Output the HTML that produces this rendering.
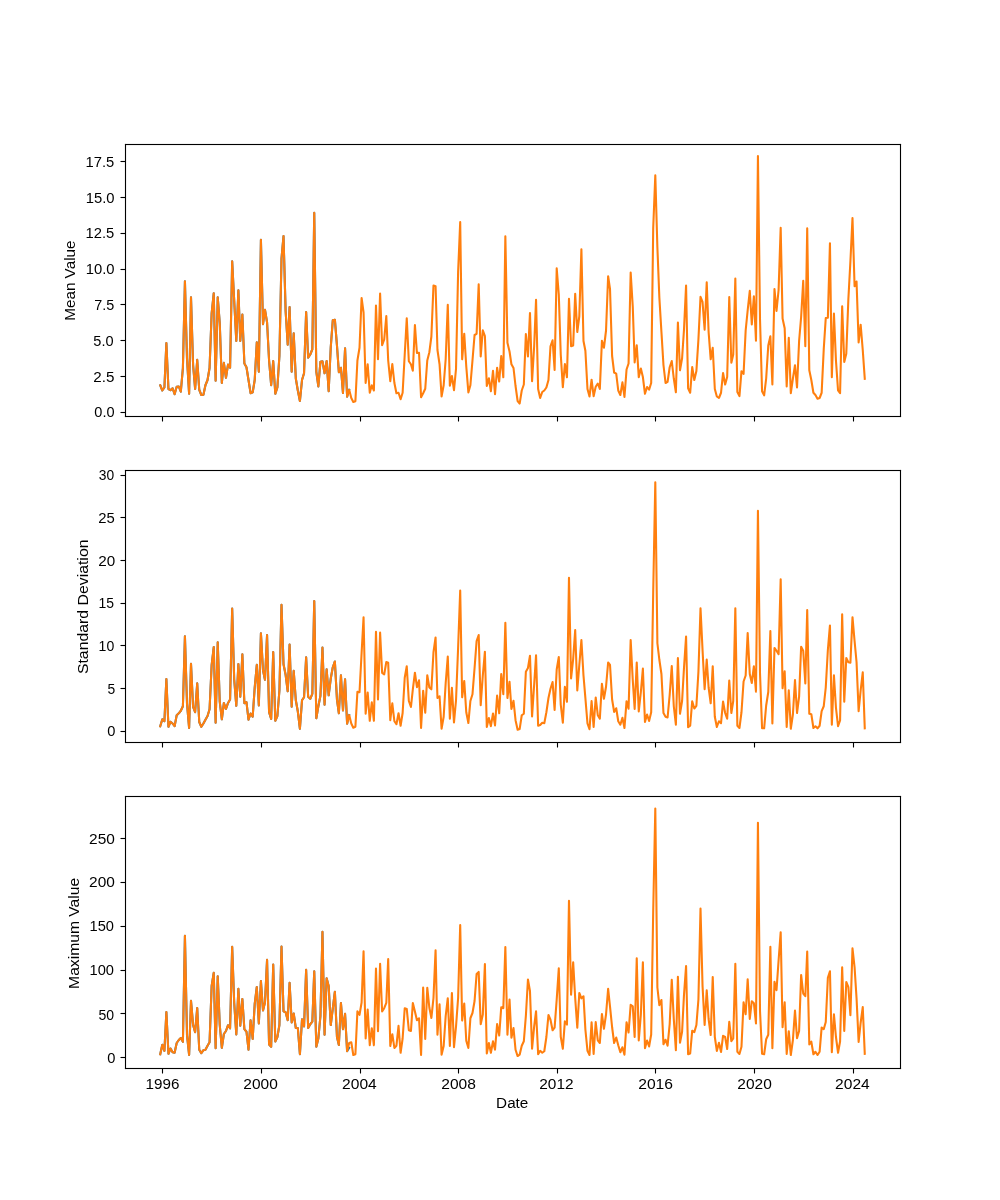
<!DOCTYPE html>
<html><head><meta charset="utf-8"><title>plot</title>
<style>html,body{margin:0;padding:0;background:#fff}svg text{font-family:"Liberation Sans",sans-serif}</style></head>
<body>
<svg width="1000" height="1200" viewBox="0 0 1000 1200" style="display:block;will-change:transform">
<rect width="1000" height="1200" fill="#fff"/>
<g fill="none" stroke-width="2.08" stroke-linejoin="round" stroke-linecap="square">
<polyline stroke="#1f77b4" points="160.23,385.25 162.32,390.50 164.41,387.50 166.37,343.00 168.46,389.00 170.49,390.20 172.58,388.25 174.60,394.25 176.70,386.75 178.79,386.45 180.81,391.70 182.90,368.00 184.93,281.20 187.02,359.00 189.11,393.80 191.00,297.25 193.10,365.00 195.12,389.00 197.21,359.80 199.24,389.75 201.33,395.00 203.42,394.70 205.44,385.25 207.54,380.00 209.56,368.00 211.65,313.25 213.75,293.20 215.63,380.75 217.73,297.25 219.75,323.00 221.84,383.00 223.87,362.80 225.96,377.75 228.05,364.45 230.08,367.70 232.17,261.25 234.19,300.50 236.29,341.00 238.38,290.20 240.27,341.00 242.36,314.50 244.38,363.50 246.48,367.25 248.50,380.00 250.59,393.20 252.68,392.30 254.71,380.00 256.80,342.25 258.83,371.75 260.92,239.80 263.01,324.20 264.97,309.70 267.06,322.25 269.08,360.50 271.17,385.25 273.20,361.00 275.29,393.80 277.38,387.50 279.41,356.00 281.50,258.50 283.52,236.05 285.62,311.00 287.71,344.75 289.60,307.00 291.69,371.75 293.71,333.25 295.81,378.50 297.83,390.50 299.92,401.00 302.02,380.00 304.04,373.25 306.13,311.95 308.16,357.80 310.25,354.50 312.34,349.25 314.23,212.80 316.32,371.75 318.35,386.45 320.44,361.70 322.46,361.25 324.56,373.25 326.65,361.00 328.67,391.25 330.76,347.00 332.79,320.30 334.88,319.70 336.97,345.50 338.86,372.20 340.95,367.75 342.98,393.05 345.07,348.25 347.10,396.80 349.19,389.80"/>
<polyline stroke="#ff7f0e" points="160.23,385.25 162.32,390.50 164.41,387.50 166.37,343.00 168.46,389.00 170.49,390.20 172.58,388.25 174.60,394.25 176.70,386.75 178.79,386.45 180.81,391.70 182.90,368.00 184.93,281.20 187.02,359.00 189.11,393.80 191.00,297.25 193.10,365.00 195.12,389.00 197.21,359.80 199.24,389.75 201.33,395.00 203.42,394.70 205.44,385.25 207.54,380.00 209.56,368.00 211.65,313.25 213.75,293.20 215.63,380.75 217.73,297.25 219.75,323.00 221.84,383.00 223.87,362.80 225.96,377.75 228.05,364.45 230.08,367.70 232.17,261.25 234.19,300.50 236.29,341.00 238.38,290.20 240.27,341.00 242.36,314.50 244.38,363.50 246.48,367.25 248.50,380.00 250.59,393.20 252.68,392.30 254.71,380.00 256.80,342.25 258.83,371.75 260.92,239.80 263.01,324.20 264.97,309.70 267.06,322.25 269.08,360.50 271.17,385.25 273.20,361.00 275.29,393.80 277.38,387.50 279.41,356.00 281.50,258.50 283.52,236.05 285.62,311.00 287.71,344.75 289.60,307.00 291.69,371.75 293.71,333.25 295.81,378.50 297.83,390.50 299.92,401.00 302.02,380.00 304.04,373.25 306.13,311.95 308.16,357.80 310.25,354.50 312.34,349.25 314.23,212.80 316.32,371.75 318.35,386.45 320.44,361.70 322.46,361.25 324.56,373.25 326.65,361.00 328.67,391.25 330.76,347.00 332.79,320.30 334.88,319.70 336.97,345.50 338.86,372.20 340.95,367.75 342.98,393.05 345.07,348.25 347.10,396.80 349.19,389.80 351.28,398.00 353.30,402.05 355.40,401.30 357.42,360.50 359.51,347.75 361.60,298.00 363.56,312.50 365.65,383.00 367.68,364.30 369.77,392.75 371.79,385.30 373.89,390.50 375.98,305.50 378.00,359.30 380.10,293.50 382.12,345.20 384.21,339.50 386.30,316.00 388.19,360.50 390.29,381.20 392.31,364.00 394.40,383.00 396.43,393.20 398.52,392.75 400.61,399.20 402.63,392.75 404.73,354.50 406.75,318.25 408.84,361.25 410.94,364.25 412.83,370.70 414.92,325.00 416.94,353.00 419.03,352.70 421.06,397.25 423.15,393.20 425.24,388.70 427.27,360.50 429.36,352.25 431.38,336.50 433.48,285.50 435.57,286.25 437.46,350.00 439.55,364.25 441.57,396.50 443.67,385.25 445.69,359.00 447.78,304.75 449.87,385.70 451.90,376.00 453.99,390.20 456.02,368.75 458.11,272.00 460.20,222.10 462.16,359.30 464.25,333.70 466.27,366.50 468.37,392.45 470.39,385.25 472.48,360.50 474.57,335.00 476.60,333.80 478.69,284.20 480.71,356.45 482.81,330.25 484.90,336.20 486.79,386.00 488.88,378.25 490.90,391.25 493.00,370.75 495.02,394.25 497.11,367.75 499.21,381.50 501.23,356.05 503.32,377.30 505.35,236.20 507.44,342.80 509.53,351.50 511.42,364.25 513.51,368.00 515.54,386.00 517.63,401.00 519.65,403.55 521.75,390.50 523.84,384.50 525.86,334.00 527.95,356.45 529.98,313.00 532.07,381.20 534.16,346.25 536.05,299.80 538.14,389.00 540.17,398.00 542.26,392.00 544.29,390.50 546.38,387.50 548.47,380.00 550.49,346.25 552.59,340.30 554.61,369.95 556.70,268.30 558.79,294.50 560.75,354.50 562.84,387.20 564.87,364.00 566.96,377.30 568.98,298.75 571.08,346.25 573.17,345.50 575.19,293.80 577.29,332.00 579.31,316.25 581.40,249.25 583.49,341.00 585.38,350.75 587.48,389.00 589.50,396.50 591.59,379.75 593.62,396.20 595.71,386.75 597.80,383.50 599.83,389.00 601.92,340.75 603.94,347.75 606.03,330.50 608.13,276.25 610.02,289.25 612.11,356.00 614.13,372.50 616.22,373.70 618.25,390.50 620.34,395.00 622.43,382.30 624.46,396.95 626.55,369.50 628.57,363.50 630.67,272.50 632.76,306.50 634.65,362.45 636.74,345.25 638.76,377.30 640.86,368.50 642.88,377.00 644.97,393.80 647.06,386.95 649.09,389.75 651.18,383.00 653.21,228.05 655.30,175.30 657.39,247.55 659.35,297.50 661.44,332.00 663.46,365.00 665.56,383.00 667.58,381.80 669.67,367.25 671.76,361.00 673.79,378.50 675.88,392.30 677.90,322.45 680.00,370.25 682.09,358.25 683.98,329.75 686.07,285.55 688.10,388.25 690.19,392.75 692.21,367.00 694.30,380.00 696.40,371.00 698.42,339.50 700.51,296.80 702.54,302.00 704.63,329.75 706.72,282.25 708.61,332.00 710.70,359.30 712.73,347.80 714.82,389.00 716.84,396.50 718.94,398.00 721.03,392.75 723.05,373.00 725.14,384.50 727.17,377.00 729.26,296.95 731.35,362.75 733.24,354.50 735.33,278.50 737.36,392.00 739.45,396.05 741.48,371.20 743.57,374.00 745.66,330.50 747.68,310.25 749.78,290.80 751.80,324.50 753.89,296.20 755.98,340.70 757.94,155.95 760.03,320.00 762.06,391.25 764.15,395.30 766.17,378.50 768.27,345.50 770.36,336.25 772.38,384.50 774.48,289.00 776.50,311.00 778.59,290.00 780.68,227.80 782.57,318.50 784.67,328.25 786.69,386.45 788.78,337.75 790.81,393.20 792.90,378.50 794.99,365.20 797.02,387.50 799.11,341.00 801.13,317.00 803.22,280.75 805.32,346.25 807.21,228.25 809.30,370.25 811.32,380.00 813.41,392.75 815.44,395.00 817.53,398.75 819.62,398.00 821.65,392.75 823.74,349.25 825.76,318.05 827.86,317.75 829.95,243.25 831.84,377.30 833.93,313.45 835.95,360.50 838.05,390.50 840.07,393.20 842.16,306.25 844.25,362.00 846.28,353.75 848.37,299.00 850.40,261.50 852.49,218.05 854.58,286.25 856.54,281.50 858.63,342.50 860.65,324.70 862.75,350.00 864.77,378.80"/>
</g>
<g stroke="#000" stroke-width="1.11" fill="none">
<path d="M162.5 416.5v5"/>
<path d="M261.5 416.5v5"/>
<path d="M360.5 416.5v5"/>
<path d="M458.5 416.5v5"/>
<path d="M557.5 416.5v5"/>
<path d="M655.5 416.5v5"/>
<path d="M754.5 416.5v5"/>
<path d="M853.5 416.5v5"/>
<path d="M125.5 412.5h-5"/>
<path d="M125.5 376.5h-5"/>
<path d="M125.5 340.5h-5"/>
<path d="M125.5 304.5h-5"/>
<path d="M125.5 269.5h-5"/>
<path d="M125.5 233.5h-5"/>
<path d="M125.5 197.5h-5"/>
<path d="M125.5 161.5h-5"/>
<rect stroke="none" fill="#000" x="124.945" y="143.945" width="776.110" height="1.110"/>
<rect stroke="none" fill="#000" x="124.945" y="415.945" width="776.110" height="1.110"/>
<rect stroke="none" fill="#000" x="124.945" y="143.945" width="1.110" height="273.110"/>
<rect stroke="none" fill="#000" x="899.945" y="143.945" width="1.110" height="273.110"/>
</g>
<text id="y0_0" x="114.53" y="417.02" font-size="14" text-anchor="end" textLength="20.23" lengthAdjust="spacingAndGlyphs" fill="#000">0.0</text>
<text id="y0_1" x="114.47" y="382.00" font-size="14" text-anchor="end" textLength="21.13" lengthAdjust="spacingAndGlyphs" fill="#000">2.5</text>
<text id="y0_2" x="113.58" y="345.68" font-size="14" text-anchor="end" textLength="20.23" lengthAdjust="spacingAndGlyphs" fill="#000">5.0</text>
<text id="y0_3" x="114.36" y="310.15" font-size="14" text-anchor="end" textLength="20.02" lengthAdjust="spacingAndGlyphs" fill="#000">7.5</text>
<text id="y0_4" x="114.48" y="274.00" font-size="14" text-anchor="end" textLength="28.82" lengthAdjust="spacingAndGlyphs" fill="#000">10.0</text>
<text id="y0_5" x="114.22" y="238.00" font-size="14" text-anchor="end" textLength="28.71" lengthAdjust="spacingAndGlyphs" fill="#000">12.5</text>
<text id="y0_6" x="114.48" y="203.00" font-size="14" text-anchor="end" textLength="28.82" lengthAdjust="spacingAndGlyphs" fill="#000">15.0</text>
<text id="y0_7" x="114.22" y="167.00" font-size="14" text-anchor="end" textLength="28.71" lengthAdjust="spacingAndGlyphs" fill="#000">17.5</text>
<g fill="none" stroke-width="2.08" stroke-linejoin="round" stroke-linecap="square">
<polyline stroke="#1f77b4" points="160.23,726.20 162.32,719.30 164.41,721.25 166.37,679.00 168.46,726.80 170.49,721.75 172.58,723.50 174.60,726.20 176.70,715.25 178.79,713.30 180.81,710.75 182.90,706.25 184.93,636.25 187.02,704.00 189.11,728.00 191.00,663.70 193.10,707.00 195.12,712.25 197.21,683.20 199.24,722.00 201.33,726.80 203.42,723.50 205.44,719.75 207.54,716.00 209.56,709.25 211.65,665.00 213.75,647.05 215.63,722.75 217.73,642.25 219.75,701.75 221.84,719.30 223.87,703.00 225.96,708.80 228.05,702.95 230.08,699.50 232.17,608.50 234.19,679.25 236.29,705.80 238.38,664.00 240.27,696.80 242.36,654.25 244.38,703.25 246.48,702.20 248.50,719.75 250.59,713.50 252.68,716.75 254.71,687.50 256.80,664.75 258.83,705.50 260.92,633.25 263.01,670.25 264.97,679.70 267.06,635.05 269.08,712.25 271.17,719.00 273.20,652.00 275.29,720.80 277.38,716.00 279.41,690.50 281.50,604.75 283.52,664.25 285.62,674.75 287.71,691.25 289.60,644.50 291.69,706.70 293.71,670.75 295.81,700.25 297.83,711.50 299.92,728.75 302.02,700.25 304.04,697.25 306.13,657.25 308.16,696.80 310.25,698.75 312.34,693.80 314.23,601.00 316.32,718.25 318.35,706.25 320.44,695.75 322.46,647.50 324.56,704.75 326.65,669.25 328.67,695.30 330.76,678.50 332.79,667.25 334.88,661.45 336.97,699.50 338.86,713.30 340.95,675.25 342.98,710.45 345.07,679.30 347.10,723.80 349.19,715.00"/>
<polyline stroke="#ff7f0e" points="160.23,726.20 162.32,719.30 164.41,721.25 166.37,679.00 168.46,726.80 170.49,721.75 172.58,723.50 174.60,726.20 176.70,715.25 178.79,713.30 180.81,710.75 182.90,706.25 184.93,636.25 187.02,704.00 189.11,728.00 191.00,663.70 193.10,707.00 195.12,712.25 197.21,683.20 199.24,722.00 201.33,726.80 203.42,723.50 205.44,719.75 207.54,716.00 209.56,709.25 211.65,665.00 213.75,647.05 215.63,722.75 217.73,642.25 219.75,701.75 221.84,719.30 223.87,703.00 225.96,708.80 228.05,702.95 230.08,699.50 232.17,608.50 234.19,679.25 236.29,705.80 238.38,664.00 240.27,696.80 242.36,654.25 244.38,703.25 246.48,702.20 248.50,719.75 250.59,713.50 252.68,716.75 254.71,687.50 256.80,664.75 258.83,705.50 260.92,633.25 263.01,670.25 264.97,679.70 267.06,635.05 269.08,712.25 271.17,719.00 273.20,652.00 275.29,720.80 277.38,716.00 279.41,690.50 281.50,604.75 283.52,664.25 285.62,674.75 287.71,691.25 289.60,644.50 291.69,706.70 293.71,670.75 295.81,700.25 297.83,711.50 299.92,728.75 302.02,700.25 304.04,697.25 306.13,657.25 308.16,696.80 310.25,698.75 312.34,693.80 314.23,601.00 316.32,718.25 318.35,706.25 320.44,695.75 322.46,647.50 324.56,704.75 326.65,669.25 328.67,695.30 330.76,678.50 332.79,667.25 334.88,661.45 336.97,699.50 338.86,713.30 340.95,675.25 342.98,710.45 345.07,679.30 347.10,723.80 349.19,715.00 351.28,723.50 353.30,727.70 355.40,726.80 357.42,691.70 359.51,692.30 361.60,653.00 363.56,617.20 365.65,713.75 367.68,692.50 369.77,720.80 371.79,702.25 373.89,720.80 375.98,631.75 378.00,699.50 380.10,632.50 382.12,672.80 384.21,674.30 386.30,662.00 388.19,662.75 390.29,720.20 392.31,703.30 394.40,721.25 396.43,724.25 398.52,713.20 400.61,725.75 402.63,713.00 404.73,677.75 406.75,666.25 408.84,701.00 410.94,707.00 412.83,689.30 414.92,672.70 416.94,687.20 419.03,680.20 421.06,728.00 423.15,690.70 425.24,712.70 427.27,675.25 429.36,687.50 431.38,689.30 433.48,652.25 435.57,637.45 437.46,698.00 439.55,696.25 441.57,728.75 443.67,716.75 445.69,683.00 447.78,656.50 449.87,718.70 451.90,687.70 453.99,722.45 456.02,700.25 458.11,647.75 460.20,590.50 462.16,697.25 464.25,680.95 466.27,712.25 468.37,723.05 470.39,701.00 472.48,694.25 474.57,668.00 476.60,641.00 478.69,635.05 480.71,705.20 482.81,675.50 484.90,651.70 486.79,726.95 488.88,718.00 490.90,726.20 493.00,713.50 495.02,725.45 497.11,695.50 499.21,713.30 501.23,674.05 503.32,694.25 505.35,622.75 507.44,698.00 509.53,681.70 511.42,708.95 513.51,700.75 515.54,720.20 517.63,729.80 519.65,729.05 521.75,715.25 523.84,713.75 525.86,671.75 527.95,668.00 529.98,655.75 532.07,716.45 534.16,684.50 536.05,655.30 538.14,725.75 540.17,725.00 542.26,722.75 544.29,723.20 546.38,712.25 548.47,698.00 550.49,688.70 552.59,682.00 554.61,710.00 556.70,669.50 558.79,656.95 560.75,704.75 562.84,722.75 564.87,686.80 566.96,701.75 568.98,577.75 571.08,678.50 573.17,659.00 575.19,629.95 577.29,690.50 579.31,665.00 581.40,640.00 583.49,675.50 585.38,698.00 587.48,723.50 589.50,729.20 591.59,701.05 593.62,726.95 595.71,697.45 597.80,715.25 599.83,718.70 601.92,683.80 603.94,698.75 606.03,686.75 608.13,662.50 610.02,665.00 612.11,699.50 614.13,711.95 616.22,708.25 618.25,721.25 620.34,724.70 622.43,717.70 624.46,728.00 626.55,701.20 628.57,708.80 630.67,640.00 632.76,680.00 634.65,708.95 636.74,662.50 638.76,711.50 640.86,692.00 642.88,668.50 644.97,722.00 647.06,714.55 649.09,720.95 651.18,712.25 653.21,591.95 655.30,482.20 657.39,643.25 659.35,659.75 661.44,674.00 663.46,713.00 665.56,716.75 667.58,717.50 669.67,695.00 671.76,665.95 673.79,706.25 675.88,724.70 677.90,658.00 680.00,713.75 682.09,701.00 683.98,668.00 686.07,636.55 688.10,727.25 690.19,725.75 692.21,701.20 694.30,708.50 696.40,705.80 698.42,671.75 700.51,608.20 702.54,650.00 704.63,689.30 706.72,659.50 708.61,687.50 710.70,703.25 712.73,666.25 714.82,716.75 716.84,726.95 718.94,721.25 721.03,723.20 723.05,701.50 725.14,713.00 727.17,718.70 729.26,680.50 731.35,713.00 733.24,701.00 735.33,608.20 737.36,725.75 739.45,728.00 741.48,712.25 743.57,681.50 745.66,675.50 747.68,632.95 749.78,674.00 751.80,683.00 753.89,666.25 755.98,691.70 757.94,510.70 760.03,674.00 762.06,728.30 764.15,728.30 766.17,705.50 768.27,692.00 770.36,631.00 772.38,723.50 774.48,647.95 776.50,650.75 778.59,654.20 780.68,579.25 782.57,688.25 784.67,671.20 786.69,726.95 788.78,690.25 790.81,728.75 792.90,714.50 794.99,680.05 797.02,713.00 799.11,696.50 801.13,646.75 803.22,650.75 805.32,683.45 807.21,610.00 809.30,713.75 811.32,714.20 813.41,728.00 815.44,726.25 817.53,728.30 819.62,725.75 821.65,711.20 823.74,706.25 825.76,687.50 827.86,650.00 829.95,625.45 831.84,724.70 833.93,675.25 835.95,707.75 838.05,726.20 840.07,720.50 842.16,614.20 844.25,701.75 846.28,658.00 848.37,662.30 850.40,662.75 852.49,617.20 854.58,641.00 856.54,662.00 858.63,711.20 860.65,690.50 862.75,672.25 864.77,728.30"/>
</g>
<g stroke="#000" stroke-width="1.11" fill="none">
<path d="M162.5 742.5v5"/>
<path d="M261.5 742.5v5"/>
<path d="M360.5 742.5v5"/>
<path d="M458.5 742.5v5"/>
<path d="M557.5 742.5v5"/>
<path d="M655.5 742.5v5"/>
<path d="M754.5 742.5v5"/>
<path d="M853.5 742.5v5"/>
<path d="M125.5 731.5h-5"/>
<path d="M125.5 688.5h-5"/>
<path d="M125.5 645.5h-5"/>
<path d="M125.5 603.5h-5"/>
<path d="M125.5 560.5h-5"/>
<path d="M125.5 517.5h-5"/>
<path d="M125.5 475.5h-5"/>
<rect stroke="none" fill="#000" x="124.945" y="469.945" width="776.110" height="1.110"/>
<rect stroke="none" fill="#000" x="124.945" y="741.945" width="776.110" height="1.110"/>
<rect stroke="none" fill="#000" x="124.945" y="469.945" width="1.110" height="273.110"/>
<rect stroke="none" fill="#000" x="899.945" y="469.945" width="1.110" height="273.110"/>
</g>
<text id="y1_0" x="115.43" y="736.48" font-size="14" text-anchor="end" textLength="8.17" lengthAdjust="spacingAndGlyphs" fill="#000">0</text>
<text id="y1_1" x="115.21" y="693.74" font-size="14" text-anchor="end" textLength="7.72" lengthAdjust="spacingAndGlyphs" fill="#000">5</text>
<text id="y1_2" x="114.22" y="651.00" font-size="14" text-anchor="end" textLength="15.62" lengthAdjust="spacingAndGlyphs" fill="#000">10</text>
<text id="y1_3" x="114.06" y="608.00" font-size="14" text-anchor="end" textLength="15.51" lengthAdjust="spacingAndGlyphs" fill="#000">15</text>
<text id="y1_4" x="115.32" y="566.00" font-size="14" text-anchor="end" textLength="16.96" lengthAdjust="spacingAndGlyphs" fill="#000">20</text>
<text id="y1_5" x="114.88" y="523.00" font-size="14" text-anchor="end" textLength="16.53" lengthAdjust="spacingAndGlyphs" fill="#000">25</text>
<text id="y1_6" x="114.07" y="480.48" font-size="14" text-anchor="end" textLength="15.36" lengthAdjust="spacingAndGlyphs" fill="#000">30</text>
<g fill="none" stroke-width="2.08" stroke-linejoin="round" stroke-linecap="square">
<polyline stroke="#1f77b4" points="160.23,1054.25 162.32,1044.70 164.41,1050.95 166.37,1012.00 168.46,1053.80 170.49,1048.45 172.58,1052.30 174.60,1052.75 176.70,1043.00 178.79,1040.00 180.81,1038.05 182.90,1041.80 184.93,935.80 187.02,1035.50 189.11,1055.00 191.00,1000.75 193.10,1025.00 195.12,1032.20 197.21,1007.95 199.24,1049.75 201.33,1053.20 203.42,1050.20 205.44,1049.75 207.54,1045.70 209.56,1042.25 211.65,986.00 213.75,972.70 215.63,1048.25 217.73,976.30 219.75,1025.00 221.84,1047.80 223.87,1034.00 225.96,1031.00 228.05,1025.20 230.08,1028.30 232.17,946.75 234.19,1002.50 236.29,1034.45 238.38,988.75 240.27,1025.75 242.36,998.95 244.38,1029.20 246.48,1031.75 248.50,1049.75 250.59,1020.25 252.68,1038.95 254.71,1004.00 256.80,986.95 258.83,1023.50 260.92,980.95 263.01,1010.45 264.97,1002.50 267.06,959.80 269.08,1044.50 271.17,1046.75 273.20,964.45 275.29,1041.50 277.38,1037.00 279.41,1025.00 281.50,946.45 283.52,1011.20 285.62,1012.25 287.71,1020.20 289.60,982.75 291.69,1022.45 293.71,1013.50 295.81,1028.00 297.83,1028.00 299.92,1054.25 302.02,1019.20 304.04,1026.50 306.13,969.70 308.16,1028.00 310.25,1024.25 312.34,1021.70 314.23,971.20 316.32,1046.75 318.35,1038.50 320.44,1016.00 322.46,931.75 324.56,1034.75 326.65,978.25 328.67,986.00 330.76,1025.00 332.79,1008.50 334.88,991.75 336.97,1037.00 338.86,1044.95 340.95,1003.00 342.98,1029.20 345.07,1013.80 347.10,1051.25 349.19,1047.80"/>
<polyline stroke="#ff7f0e" points="160.23,1054.25 162.32,1044.70 164.41,1050.95 166.37,1012.00 168.46,1053.80 170.49,1048.45 172.58,1052.30 174.60,1052.75 176.70,1043.00 178.79,1040.00 180.81,1038.05 182.90,1041.80 184.93,935.80 187.02,1035.50 189.11,1055.00 191.00,1000.75 193.10,1025.00 195.12,1032.20 197.21,1007.95 199.24,1049.75 201.33,1053.20 203.42,1050.20 205.44,1049.75 207.54,1045.70 209.56,1042.25 211.65,986.00 213.75,972.70 215.63,1048.25 217.73,976.30 219.75,1025.00 221.84,1047.80 223.87,1034.00 225.96,1031.00 228.05,1025.20 230.08,1028.30 232.17,946.75 234.19,1002.50 236.29,1034.45 238.38,988.75 240.27,1025.75 242.36,998.95 244.38,1029.20 246.48,1031.75 248.50,1049.75 250.59,1020.25 252.68,1038.95 254.71,1004.00 256.80,986.95 258.83,1023.50 260.92,980.95 263.01,1010.45 264.97,1002.50 267.06,959.80 269.08,1044.50 271.17,1046.75 273.20,964.45 275.29,1041.50 277.38,1037.00 279.41,1025.00 281.50,946.45 283.52,1011.20 285.62,1012.25 287.71,1020.20 289.60,982.75 291.69,1022.45 293.71,1013.50 295.81,1028.00 297.83,1028.00 299.92,1054.25 302.02,1019.20 304.04,1026.50 306.13,969.70 308.16,1028.00 310.25,1024.25 312.34,1021.70 314.23,971.20 316.32,1046.75 318.35,1038.50 320.44,1016.00 322.46,931.75 324.56,1034.75 326.65,978.25 328.67,986.00 330.76,1025.00 332.79,1008.50 334.88,991.75 336.97,1037.00 338.86,1044.95 340.95,1003.00 342.98,1029.20 345.07,1013.80 347.10,1051.25 349.19,1043.00 351.28,1042.25 353.30,1055.00 355.40,1054.25 357.42,1011.25 359.51,1014.80 361.60,1002.50 363.56,951.25 365.65,1038.50 367.68,1009.45 369.77,1045.25 371.79,1028.20 373.89,1045.25 375.98,968.50 378.00,1031.30 380.10,963.70 382.12,1011.50 384.21,1008.20 386.30,1002.95 388.19,959.05 390.29,1046.00 392.31,1034.20 394.40,1047.95 396.43,1045.70 398.52,1025.80 400.61,1052.75 402.63,1038.50 404.73,1008.20 406.75,1008.95 408.84,1030.25 410.94,1031.00 412.83,1003.00 414.92,1011.50 416.94,1020.20 419.03,1018.30 421.06,1055.00 423.15,987.55 425.24,1038.95 427.27,987.70 429.36,1007.75 431.38,1017.95 433.48,998.00 435.57,950.20 437.46,1034.75 439.55,1004.20 441.57,1054.70 443.67,1046.00 445.69,1016.00 447.78,998.20 449.87,1046.00 451.90,992.95 453.99,1047.20 456.02,1026.50 458.11,998.00 460.20,925.00 462.16,1020.50 464.25,1003.45 466.27,1040.75 468.37,1047.95 470.39,1018.25 472.48,1013.00 474.57,1001.00 476.60,974.00 478.69,971.95 480.71,1024.25 482.81,1014.50 484.90,964.00 486.79,1053.50 488.88,1043.05 490.90,1052.75 493.00,1041.25 495.02,1049.75 497.11,1024.00 499.21,1035.50 501.23,1007.30 503.32,1008.20 505.35,947.05 507.44,1034.75 509.53,999.55 511.42,1037.75 513.51,1028.05 515.54,1049.75 517.63,1056.05 519.65,1054.70 521.75,1045.70 523.84,1041.20 525.86,1016.00 527.95,979.45 529.98,991.25 532.07,1048.70 534.16,1026.50 536.05,1011.25 538.14,1054.25 540.17,1050.80 542.26,1052.75 544.29,1051.25 546.38,1037.00 548.47,1015.00 550.49,1019.75 552.59,1030.25 554.61,1027.70 556.70,999.50 558.79,968.20 560.75,1036.70 562.84,1048.70 564.87,1021.30 566.96,1024.55 568.98,900.70 571.08,994.70 573.17,962.20 575.19,998.00 577.29,1027.70 579.31,992.95 581.40,998.30 583.49,996.25 585.38,1029.50 587.48,1050.80 589.50,1055.00 591.59,1022.20 593.62,1053.95 595.71,1022.05 597.80,1040.30 599.83,1043.00 601.92,1013.95 603.94,1028.75 606.03,1014.50 608.13,988.75 610.02,1006.70 612.11,1027.25 614.13,1043.00 616.22,1037.50 618.25,1045.25 620.34,1052.30 622.43,1047.25 624.46,1054.70 626.55,1022.20 628.57,1032.50 630.67,1004.75 632.76,1006.25 634.65,1037.00 636.74,958.30 638.76,1040.45 640.86,1014.50 642.88,962.20 644.97,1048.25 647.06,1040.50 649.09,1046.45 651.18,1034.45 653.21,911.00 655.30,808.45 657.39,987.50 659.35,1005.20 661.44,1000.00 663.46,1044.20 665.56,1039.75 667.58,1045.70 669.67,1024.25 671.76,979.75 673.79,1019.00 675.88,1050.20 677.90,976.75 680.00,1042.70 682.09,1031.75 683.98,995.00 686.07,965.95 688.10,1054.25 690.19,1053.50 692.21,1030.70 694.30,1032.20 696.40,1025.00 698.42,999.50 700.51,908.50 702.54,986.00 704.63,1025.00 706.72,990.25 708.61,1019.00 710.70,1035.05 712.73,977.05 714.82,1037.00 716.84,1050.95 718.94,1042.75 721.03,1052.00 723.05,1035.80 725.14,1037.00 727.17,1049.00 729.26,1021.75 731.35,1041.20 733.24,1038.50 735.33,963.70 737.36,1051.70 739.45,1053.95 741.48,1046.75 743.57,1002.25 745.66,1014.20 747.68,979.30 749.78,1019.00 751.80,1001.20 753.89,1003.25 755.98,1023.50 757.94,822.70 760.03,1011.50 762.06,1053.80 764.15,1054.25 766.17,1039.25 768.27,1034.75 770.36,946.75 772.38,1048.25 774.48,981.70 776.50,990.20 778.59,960.50 780.68,932.20 782.57,1027.25 784.67,1002.25 786.69,1053.95 788.78,1031.20 790.81,1055.00 792.90,1040.00 794.99,1010.50 797.02,1038.20 799.11,1031.00 801.13,974.95 803.22,993.50 805.32,996.20 807.21,951.55 809.30,1044.50 811.32,1041.70 813.41,1054.25 815.44,1051.75 817.53,1055.00 819.62,1051.70 821.65,1027.45 823.74,1029.20 825.76,1022.00 827.86,977.75 829.95,971.20 831.84,1052.30 833.93,1014.25 835.95,1037.00 838.05,1052.75 840.07,1041.50 842.16,967.30 844.25,1031.00 846.28,982.00 848.37,987.20 850.40,1015.25 852.49,948.25 854.58,967.25 856.54,998.00 858.63,1041.95 860.65,1022.75 862.75,1007.05 864.77,1053.80"/>
</g>
<g stroke="#000" stroke-width="1.11" fill="none">
<path d="M162.5 1068.5v5"/>
<path d="M261.5 1068.5v5"/>
<path d="M360.5 1068.5v5"/>
<path d="M458.5 1068.5v5"/>
<path d="M557.5 1068.5v5"/>
<path d="M655.5 1068.5v5"/>
<path d="M754.5 1068.5v5"/>
<path d="M853.5 1068.5v5"/>
<path d="M125.5 1057.5h-5"/>
<path d="M125.5 1013.5h-5"/>
<path d="M125.5 970.5h-5"/>
<path d="M125.5 926.5h-5"/>
<path d="M125.5 882.5h-5"/>
<path d="M125.5 838.5h-5"/>
<rect stroke="none" fill="#000" x="124.945" y="795.945" width="776.110" height="1.110"/>
<rect stroke="none" fill="#000" x="124.945" y="1067.945" width="776.110" height="1.110"/>
<rect stroke="none" fill="#000" x="124.945" y="795.945" width="1.110" height="273.110"/>
<rect stroke="none" fill="#000" x="899.945" y="795.945" width="1.110" height="273.110"/>
</g>
<text id="y2_0" x="115.43" y="1063.48" font-size="14" text-anchor="end" textLength="8.17" lengthAdjust="spacingAndGlyphs" fill="#000">0</text>
<text id="y2_1" x="114.07" y="1019.51" font-size="14" text-anchor="end" textLength="15.63" lengthAdjust="spacingAndGlyphs" fill="#000">50</text>
<text id="y2_2" x="113.97" y="975.00" font-size="14" text-anchor="end" textLength="24.43" lengthAdjust="spacingAndGlyphs" fill="#000">100</text>
<text id="y2_3" x="113.97" y="931.00" font-size="14" text-anchor="end" textLength="24.43" lengthAdjust="spacingAndGlyphs" fill="#000">150</text>
<text id="y2_4" x="114.89" y="887.00" font-size="14" text-anchor="end" textLength="25.77" lengthAdjust="spacingAndGlyphs" fill="#000">200</text>
<text id="y2_5" x="114.89" y="844.00" font-size="14" text-anchor="end" textLength="25.77" lengthAdjust="spacingAndGlyphs" fill="#000">250</text>
<text id="x0" x="162.49" y="1089.00" font-size="14" text-anchor="middle" textLength="33.79" lengthAdjust="spacingAndGlyphs" fill="#000">1996</text>
<text id="x1" x="260.57" y="1089.00" font-size="14" text-anchor="middle" textLength="34.47" lengthAdjust="spacingAndGlyphs" fill="#000">2000</text>
<text id="x2" x="359.43" y="1089.00" font-size="14" text-anchor="middle" textLength="34.65" lengthAdjust="spacingAndGlyphs" fill="#000">2004</text>
<text id="x3" x="458.61" y="1089.00" font-size="14" text-anchor="middle" textLength="34.59" lengthAdjust="spacingAndGlyphs" fill="#000">2008</text>
<text id="x4" x="556.44" y="1089.00" font-size="14" text-anchor="middle" textLength="34.28" lengthAdjust="spacingAndGlyphs" fill="#000">2012</text>
<text id="x5" x="655.62" y="1089.00" font-size="14" text-anchor="middle" textLength="34.78" lengthAdjust="spacingAndGlyphs" fill="#000">2016</text>
<text id="x6" x="754.57" y="1089.00" font-size="14" text-anchor="middle" textLength="34.47" lengthAdjust="spacingAndGlyphs" fill="#000">2020</text>
<text id="x7" x="852.43" y="1089.00" font-size="14" text-anchor="middle" textLength="34.65" lengthAdjust="spacingAndGlyphs" fill="#000">2024</text>
<text id="date" x="512.24" y="1108.00" font-size="14" text-anchor="middle" textLength="32.24" lengthAdjust="spacingAndGlyphs" fill="#000">Date</text>
<text id="l0" x="74.72" y="280.63" font-size="14" text-anchor="middle" textLength="80.39" lengthAdjust="spacingAndGlyphs" fill="#000" transform="rotate(-90 74.72 280.63)">Mean Value</text>
<text id="l1" x="87.94" y="606.79" font-size="14" text-anchor="middle" textLength="134.55" lengthAdjust="spacingAndGlyphs" fill="#000" transform="rotate(-90 87.94 606.79)">Standard Deviation</text>
<text id="l2" x="79.24" y="933.37" font-size="14" text-anchor="middle" textLength="110.99" lengthAdjust="spacingAndGlyphs" fill="#000" transform="rotate(-90 79.24 933.37)">Maximum Value</text>
</svg>
</body></html>
